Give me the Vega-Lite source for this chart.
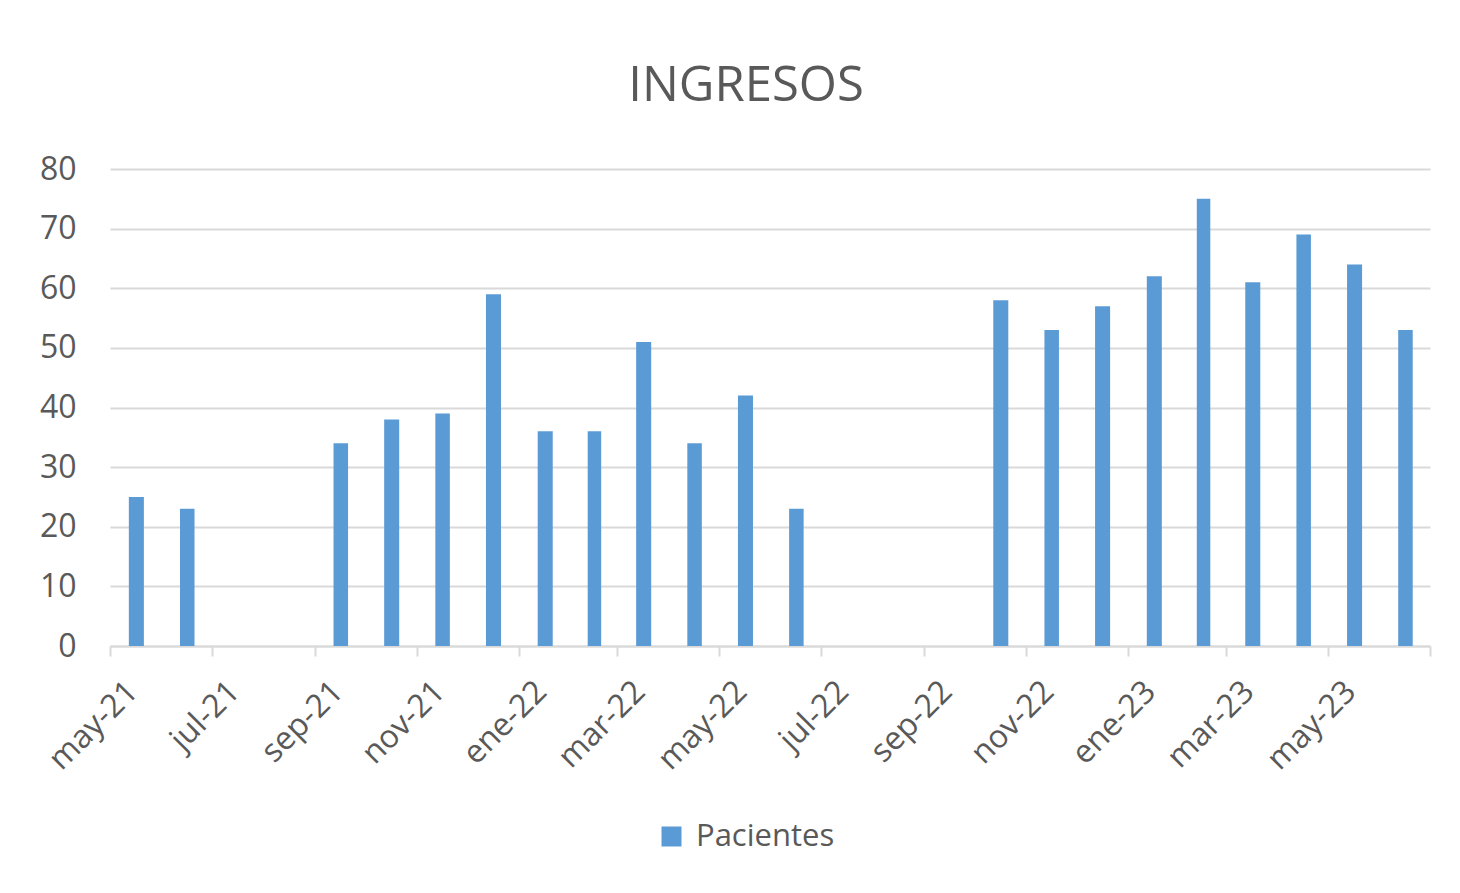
{
  "$schema": "https://vega.github.io/schema/vega-lite/v6.json",
  "width": 1320,
  "height": 477,
  "autosize": {"type": "none"},
  "padding": {"left": 110, "top": 169, "right": 30, "bottom": 247},
  "background": "white",
  "title": {
    "text": "INGRESOS",
    "fontSize": 49,
    "font": "Open Sans",
    "fontWeight": "normal",
    "color": "#595959",
    "anchor": "middle",
    "frame": "group",
    "dx": -24,
    "offset": 42
  },
  "data": {
    "values": [
      {"mes": "2021-05-01", "pacientes": 25},
      {"mes": "2021-06-01", "pacientes": 23},
      {"mes": "2021-09-01", "pacientes": 34},
      {"mes": "2021-10-01", "pacientes": 38},
      {"mes": "2021-11-01", "pacientes": 39},
      {"mes": "2021-12-01", "pacientes": 59},
      {"mes": "2022-01-01", "pacientes": 36},
      {"mes": "2022-02-01", "pacientes": 36},
      {"mes": "2022-03-01", "pacientes": 51},
      {"mes": "2022-04-01", "pacientes": 34},
      {"mes": "2022-05-01", "pacientes": 42},
      {"mes": "2022-06-01", "pacientes": 23},
      {"mes": "2022-10-01", "pacientes": 58},
      {"mes": "2022-11-01", "pacientes": 53},
      {"mes": "2022-12-01", "pacientes": 57},
      {"mes": "2023-01-01", "pacientes": 62},
      {"mes": "2023-02-01", "pacientes": 75},
      {"mes": "2023-03-01", "pacientes": 61},
      {"mes": "2023-04-01", "pacientes": 69},
      {"mes": "2023-05-01", "pacientes": 64},
      {"mes": "2023-06-01", "pacientes": 53}
    ]
  },
  "mark": {"type": "bar", "width": {"band": 0.31}},
  "encoding": {
    "x": {
      "field": "mes",
      "type": "temporal",
      "timeUnit": "utcyearmonth",
      "scale": {
        "type": "utc",
        "domain": [
          {"year": 2021, "month": 5, "date": 1, "utc": true},
          {"year": 2023, "month": 7, "date": 1, "utc": true}
        ]
      },
      "axis": {
        "title": null,
        "grid": false,
        "tickCount": {"interval": "month", "step": 2},
        "labelExpr": "(utcyear(datum.value) == 2023 && utcmonth(datum.value) == 6) ? '' : ['ene','feb','mar','abr','may','jun','jul','ago','sep','oct','nov','dic'][utcmonth(datum.value)] + '-' + utcFormat(datum.value, '%y')",
        "labelAngle": -45,
        "labelAlign": "right",
        "labelBaseline": "middle",
        "labelOffset": 22,
        "labelPadding": 30,
        "labelFlush": false,
        "labelOverlap": false,
        "labelFontSize": 32,
        "labelColor": "#595959",
        "labelFont": "Open Sans",
        "tickSize": 10,
        "tickColor": "#d9d9d9",
        "tickWidth": 2,
        "domainColor": "#d9d9d9",
        "domainWidth": 2
      }
    },
    "y": {
      "field": "pacientes",
      "type": "quantitative",
      "scale": {"domain": [0, 80]},
      "axis": {
        "title": null,
        "values": [0, 10, 20, 30, 40, 50, 60, 70, 80],
        "domain": false,
        "ticks": false,
        "labelPadding": 34,
        "labelFontSize": 32,
        "labelColor": "#595959",
        "labelFont": "Open Sans",
        "gridColor": "#d9d9d9",
        "gridWidth": 2
      }
    },
    "color": {
      "datum": "Pacientes",
      "type": "nominal",
      "scale": {"range": ["#5B9BD5"]},
      "legend": {
        "title": null,
        "orient": "none",
        "legendX": 546,
        "legendY": 652,
        "symbolType": "square",
        "symbolSize": 400,
        "symbolStrokeWidth": 0,
        "labelFontSize": 31,
        "labelColor": "#595959",
        "labelFont": "Open Sans",
        "labelOffset": 9
      }
    }
  },
  "config": {"font": "Open Sans", "view": {"stroke": null}}
}
